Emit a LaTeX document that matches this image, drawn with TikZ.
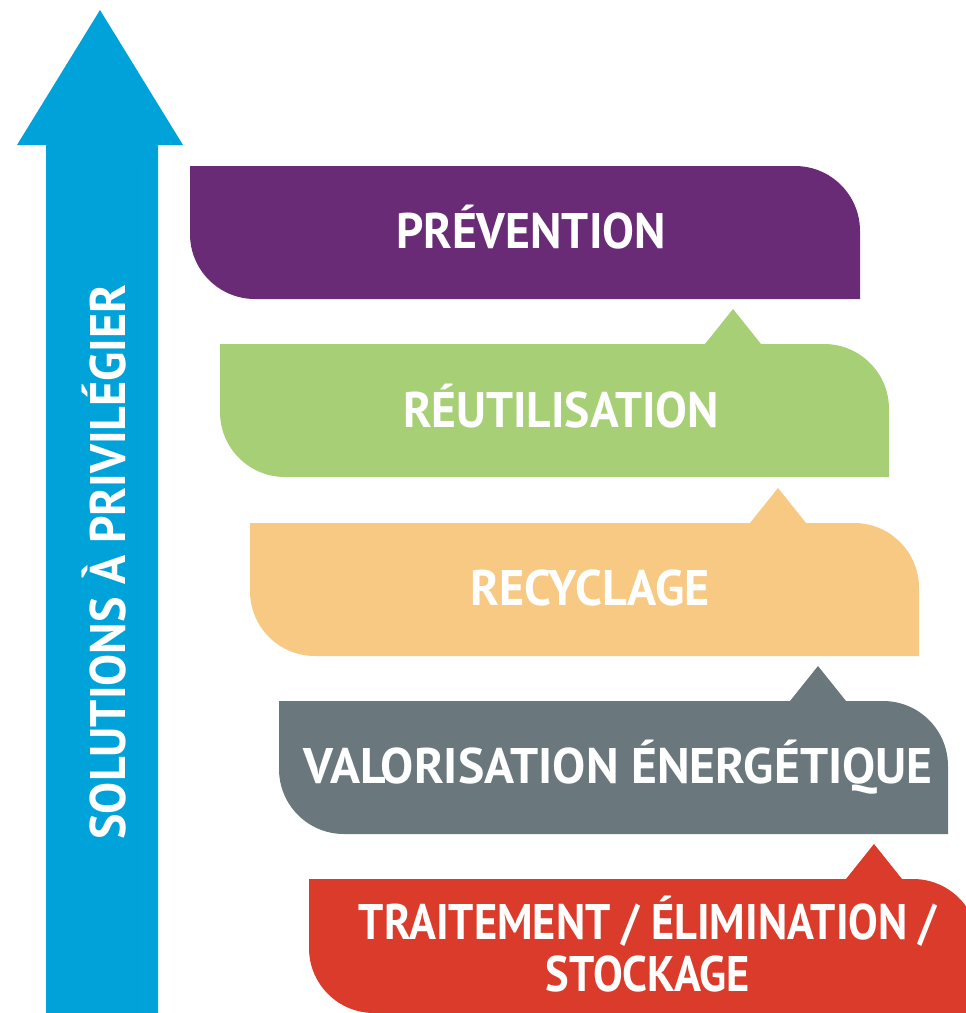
\documentclass[tikz,border=0pt]{standalone}
\usepackage{fontspec}
\setmainfont{PT Sans}
\usepackage{graphicx}
\definecolor{arrowblue}{HTML}{00A3D9}
\definecolor{cpurple}{HTML}{692A76}
\definecolor{cgreen}{HTML}{A7CF75}
\definecolor{corange}{HTML}{F7C983}
\definecolor{cgrey}{HTML}{6A787E}
\definecolor{cred}{HTML}{DA3B2A}
\newcommand{\fitto}[2]{\resizebox{#1}{\height}{#2}}
% #1 colour, #2 L, #3 T, #4 R, #5 B
\newcommand{\plainbubble}[5]{%
  \fill[#1] (#2,#3) -- (#4-65,#3) .. controls (#4-29,#3) and (#4,#3+29) .. (#4,#3+65)
    -- (#4,#5) -- (#2+65,#5) .. controls (#2+29,#5) and (#2,#5-29) .. (#2,#5-65) -- cycle;}
% #6 tip x
\newcommand{\tipbubble}[6]{%
  \fill[#1] (#2,#3) -- (#6-28,#3) -- (#6,#3-35) -- (#6+28,#3) -- (#4-65,#3)
    .. controls (#4-29,#3) and (#4,#3+29) .. (#4,#3+65)
    -- (#4,#5) -- (#2+65,#5) .. controls (#2+29,#5) and (#2,#5-29) .. (#2,#5-65) -- cycle;}
\tikzset{lbl/.style={text=white, font=\bfseries\fontsize{50}{52}\selectfont,
  anchor=base, inner sep=0pt, align=center}}
\begin{document}
\begin{tikzpicture}[x=1pt,y=-1pt]
\useasboundingbox (0,0) rectangle (966,1013);
\clip (0,0) rectangle (966,1013);
% arrow
\fill[arrowblue] (100,10) -- (183,145) -- (158,145) -- (158,1020) -- (46,1020)
  -- (46,145) -- (17,145) -- cycle;
\node[lbl, rotate=90] (axis) at (125,562) {\fitto{555pt}{SOLUTIONS À PRIVILÉGIER}};
% bubbles
\plainbubble{cpurple}{190}{166}{860}{299}
\tipbubble{cgreen}{220}{344}{889}{477}{733}
\tipbubble{corange}{250}{523}{919}{656}{778}
\tipbubble{cgrey}{279}{701}{948}{834}{818}
\tipbubble{cred}{309}{879}{978}{1013}{874}
% labels
\node[lbl] (prev) at (531,248) {\fitto{270pt}{PRÉVENTION}};
\node[lbl] (reut) at (561,427) {\fitto{316pt}{RÉUTILISATION}};
\node[lbl] (recy) at (590,605) {\fitto{239pt}{RECYCLAGE}};
\node[lbl] (valo) at (618,783) {\fitto{629pt}{VALORISATION ÉNERGÉTIQUE}};
\node[lbl] (trait) at (648,991) {\fitto{578pt}{TRAITEMENT / ÉLIMINATION /}\\\fitto{204pt}{STOCKAGE}};
\end{tikzpicture}
\end{document}
